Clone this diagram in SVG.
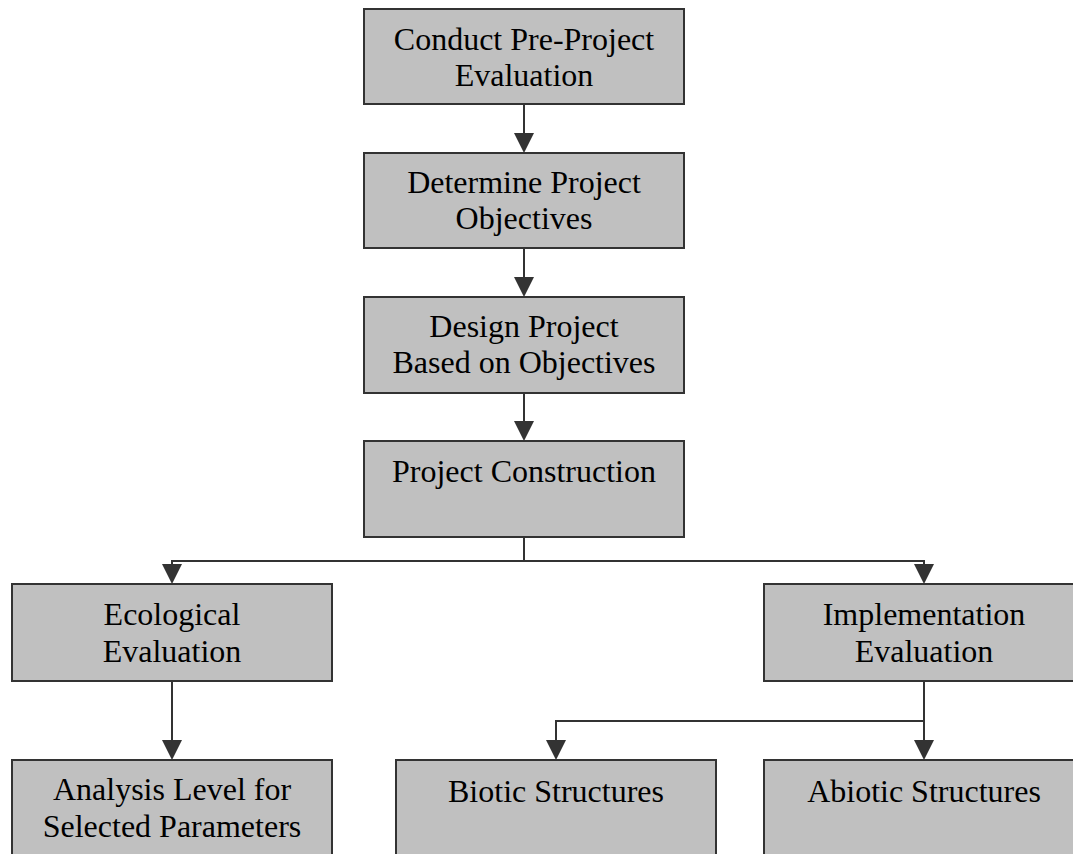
<svg xmlns="http://www.w3.org/2000/svg" width="1073" height="854" viewBox="0 0 1073 854">
<defs>
<style>
.box{fill:#c0c0c0;stroke:#333333;stroke-width:2}
.t{font-family:"Liberation Serif","Times New Roman",serif;font-size:32px;fill:#000;text-anchor:middle}
.c{fill:none;stroke:#333333;stroke-width:2}
.ah{fill:#333333}
</style>
</defs>
<rect width="1073" height="854" fill="#ffffff"/>
<g id="connectors">
<line class="c" x1="524" y1="104" x2="524" y2="135"/>
<polygon class="ah" points="514,133 534,133 524,153"/>
<line class="c" x1="524" y1="248" x2="524" y2="279"/>
<polygon class="ah" points="514,277 534,277 524,297"/>
<line class="c" x1="524" y1="393" x2="524" y2="423"/>
<polygon class="ah" points="514,421 534,421 524,441"/>
<polyline class="c" points="524,537 524,561"/>
<polyline class="c" points="172,566 172,561 924,561 924,566"/>
<polygon class="ah" points="162,564 182,564 172,584"/>
<polygon class="ah" points="914,564 934,564 924,584"/>
<line class="c" x1="172" y1="681" x2="172" y2="742"/>
<polygon class="ah" points="162,740 182,740 172,760"/>
<polyline class="c" points="924,681 924,742"/>
<polyline class="c" points="556,742 556,721 924,721"/>
<polygon class="ah" points="546,740 566,740 556,760"/>
<polygon class="ah" points="914,740 934,740 924,760"/>
</g>
<g id="n1">
<rect class="box" x="364" y="9" width="320" height="95"/>
<text class="t" x="524" y="50">Conduct Pre-Project</text>
<text class="t" x="524" y="86">Evaluation</text>
</g>
<g id="n2">
<rect class="box" x="364" y="153" width="320" height="95"/>
<text class="t" x="524" y="193">Determine Project</text>
<text class="t" x="524" y="229">Objectives</text>
</g>
<g id="n3">
<rect class="box" x="364" y="297" width="320" height="96"/>
<text class="t" x="524" y="337">Design Project</text>
<text class="t" x="524" y="373">Based on Objectives</text>
</g>
<g id="n4">
<rect class="box" x="364" y="441" width="320" height="96"/>
<text class="t" x="524" y="482">Project Construction</text>
</g>
<g id="n5">
<rect class="box" x="12" y="584" width="320" height="97"/>
<text class="t" x="172" y="625">Ecological</text>
<text class="t" x="172" y="662">Evaluation</text>
</g>
<g id="n6">
<rect class="box" x="764" y="584" width="320" height="97"/>
<text class="t" x="924" y="625">Implementation</text>
<text class="t" x="924" y="662">Evaluation</text>
</g>
<g id="n7">
<rect class="box" x="12" y="760" width="320" height="97"/>
<text class="t" x="172" y="800">Analysis Level for</text>
<text class="t" x="172" y="837">Selected Parameters</text>
</g>
<g id="n8">
<rect class="box" x="396" y="760" width="320" height="97"/>
<text class="t" x="556" y="802">Biotic Structures</text>
</g>
<g id="n9">
<rect class="box" x="764" y="760" width="320" height="97"/>
<text class="t" x="924" y="802">Abiotic Structures</text>
</g>
</svg>
